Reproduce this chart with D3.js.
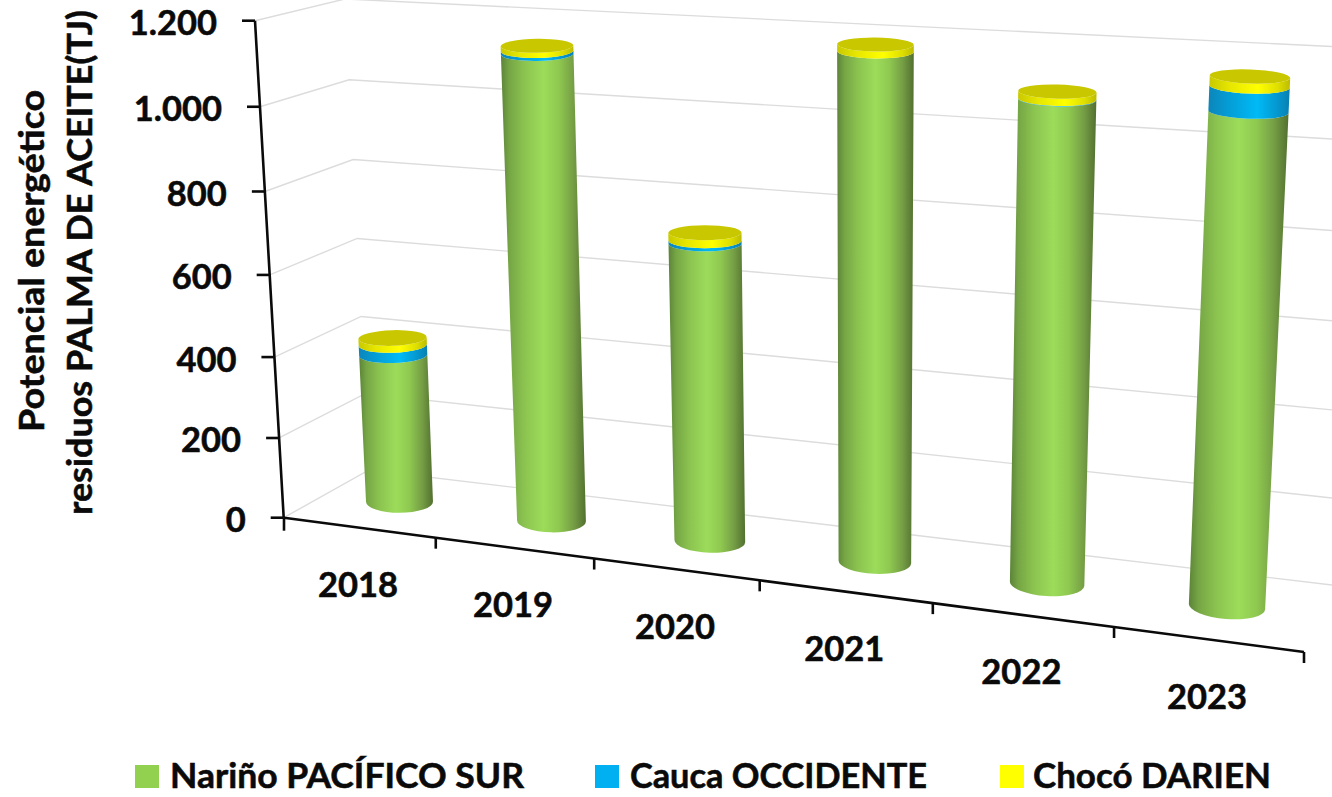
<!DOCTYPE html>
<html><head><meta charset="utf-8">
<script src="https://cdn.jsdelivr.net/npm/d3@7/dist/d3.min.js"></script>
<style>html,body{margin:0;padding:0;background:#fff;overflow:hidden}svg{display:block}
text{font-family:Lato,"Open Sans",sans-serif;font-weight:700;fill:#0a0a0a;stroke:#0a0a0a;stroke-width:0.55px}</style>
</head><body><svg id="c" width="1332" height="797"></svg>
<script>
const categories=["2018","2019","2020","2021","2022","2023"];
const narino=[358,1096,670,1105,1007,988];
const cauca=[25,7,7,0,1,50];
const choco=[17,12,18,15,15,20];
const seriesNames=["Nariño PACÍFICO SUR","Cauca OCCIDENTE","Chocó DARIEN"];
const seriesColors=["#92d050","#00b0f0","#ffff00"];
const yTicks=[0,200,400,600,800,1000,1200];
const yTickLabels=["0","200","400","600","800","1.000","1.200"];
const titleLines=["Potencial energético","residuos PALMA DE ACEITE(TJ)"];

const svg=d3.select("#c");
function quad(p00,p10,p11,p01){
  const [x0,y0]=p00,[x1,y1]=p10,[x2,y2]=p11,[x3,y3]=p01;
  const dx1=x1-x2,dx2=x3-x2,sx=x0-x1+x2-x3,dy1=y1-y2,dy2=y3-y2,sy=y0-y1+y2-y3;
  const d=dx1*dy2-dx2*dy1,g=(sx*dy2-dx2*sy)/d,h=(dx1*sy-sx*dy1)/d;
  const a=x1-x0+g*x1,b=x3-x0+h*x3,c=x0,e=y1-y0+g*y1,f=y3-y0+h*y3,i=y0;
  return (s,t)=>{const w=g*s+h*t+1;return [(a*s+b*t+c)/w,(e*s+f*t+i)/w];};
}
const persp=a=>s=>a*s/(1+(a-1)*s);
const uScale=d3.scaleLinear().domain([0,6]).range([0,1]);
const vScale=d3.scaleLinear().domain([0,1200]).range([0,1]);
const frontT=persp(0.874);
const xFront=d3.scaleLinear().domain([0,1]).range([284,1304]);
const yFront=d3.scaleLinear().domain([0,1]).range([517.7,652]);
const front=u=>{const t=frontT(uScale(u));return [xFront(t),yFront(t)];};
const axT=persp(0.955);
const xAxisV=d3.scaleLinear().domain([0,1]).range([283.7,255]);
const yAxisV=d3.scaleLinear().domain([0,1]).range([517.7,20.7]);
const axisPt=v=>{const t=axT(vScale(v));return [xAxisV(t),yAxisV(t)];};
const back=quad([369,470],[1332,585],[1342,47],[345,-1]);
const backPt=(s,v)=>back(s,vScale(v));
// plane of the bars
const sBar=d3.scaleLinear().domain([0.5,5.5]).range([0,1]);
const barT=persp(0.9),barTopT=persp(0.88);
const baseX=d3.scaleLinear().domain([0,1]).range([399.5,1227]);
const baseY=d3.scaleLinear().domain([0,1]).range([501.7,606.5]);
const topX=d3.scaleLinear().domain([0,1]).range([381,1250]);
const topY=d3.scaleLinear().domain([0,1]).range([68.7,76.5]);
const tBar=d3.scaleLinear().domain([0,1058]).range([0,1]);
const barPt=(u,v)=>{
  const s=sBar(u),t=barT(s),t2=barTopT(s),k=tBar(v);
  return [d3.interpolateNumber(baseX(t),topX(t2))(k),d3.interpolateNumber(baseY(t),topY(t))(k)];
};

const line=d3.line();
const grid=svg.append("g").attr("fill","none").attr("stroke","#dcdcdc").attr("stroke-width",1.4);
yTicks.forEach(v=>{
  grid.append("path").attr("d",line([axisPt(v),backPt(0,v),backPt(1,v)]));
});
const ax=svg.append("g").attr("fill","none").attr("stroke","#0a0a0a").attr("stroke-width",2.6);
ax.append("path").attr("d",line(yTicks.map(axisPt)));
ax.append("path").attr("d",line(d3.range(7).map(front)));
yTicks.forEach((v,i)=>{
  const [x,y]=axisPt(v);
  ax.append("line").attr("x1",x-13).attr("x2",x).attr("y1",y).attr("y2",y);
  svg.append("text").attr("x",x-38).attr("y",y+14.5).attr("text-anchor","end")
    .attr("font-size",34.5).text(yTickLabels[i]);
});
d3.range(7).forEach(u=>{
  const [x,y]=front(u);
  ax.append("line").attr("x1",x).attr("x2",x).attr("y1",y).attr("y2",y+(u===0?13:11));
});
categories.forEach((c,i)=>{
  const [x,y]=front(i+0.5);
  svg.append("text").attr("x",x-1).attr("y",y+69.5).attr("text-anchor","middle")
    .attr("font-size",34.5).text(c);
});
const defs=svg.append("defs");
function grad(id,stops){
  const g=defs.append("linearGradient").attr("id",id).attr("x1",0).attr("x2",1).attr("y1",0).attr("y2",0);
  stops.forEach(([o,c])=>g.append("stop").attr("offset",o).attr("stop-color",c));
}
grad("g0",[[0,"#5c8438"],[0.1,"#76a645"],[0.28,"#8cc450"],[0.5,"#9cdc5a"],[0.68,"#8fc950"],[0.85,"#769f45"],[1,"#527030"]]);
grad("g1",[[0,"#0c86ba"],[0.25,"#049dd6"],[0.6,"#00baf6"],[0.85,"#0497cf"],[1,"#0a7fb0"]]);
grad("g2",[[0,"#c9c900"],[0.25,"#e6e600"],[0.6,"#ffff00"],[0.85,"#dede00"],[1,"#bcbc00"]]);
function disc(i,v){
  const u=i+0.5,[cx,cy]=barPt(u,v);
  const w=(66+1.9*u)*(1+v*0.00005);
  const ry=v===0?(11+0.28*u):(7+1.3*(1-v/1100));
  const deg=v===0?(-0.3+0.85*u):(-2+0.75*u);
  const r=deg*Math.PI/180,dx=w/2*Math.cos(r),dy=w/2*Math.sin(r);
  return {cx,cy,rx:w/2,ry,deg,L:[cx-dx,cy-dy],R:[cx+dx,cy+dy]};
}
const bars=svg.append("g");
categories.forEach((c,i)=>{
  const vals=[narino[i],cauca[i],choco[i]];
  let acc=0;
  vals.forEach((val,k)=>{
    if(val<=0)return;
    const a=disc(i,acc),b=disc(i,acc+val);
    bars.append("path").attr("fill",`url(#g${k})`)
      .attr("d",`M${b.L}A${b.rx} ${b.ry} ${b.deg} 0 0 ${b.R}L${a.R}A${a.rx} ${a.ry} ${a.deg} 0 1 ${a.L}Z`);
    acc+=val;
  });
  const t=disc(i,acc);
  bars.append("ellipse").attr("cx",t.cx).attr("cy",t.cy).attr("rx",t.rx).attr("ry",t.ry)
    .attr("transform",`rotate(${t.deg} ${t.cx} ${t.cy})`).attr("fill","#c9c800");
});
[[44,342,261],[92,505,262.5]].forEach(([x,len,mid],i)=>{
  svg.append("text").attr("transform",`translate(${x},${mid}) rotate(-90)`)
    .attr("text-anchor","middle").attr("font-size",35)
    .attr("textLength",len).attr("lengthAdjust","spacingAndGlyphs").text(titleLines[i]);
});
[[135,170,354],[595,630,297],[1000,1033,238]].forEach(([sx,tx,len],i)=>{
  svg.append("rect").attr("x",sx).attr("y",765).attr("width",24).attr("height",23).attr("fill",seriesColors[i]);
  svg.append("text").attr("x",tx).attr("y",788).attr("font-size",35)
    .attr("textLength",len).attr("lengthAdjust","spacingAndGlyphs").text(seriesNames[i]);
});
</script></body></html>
